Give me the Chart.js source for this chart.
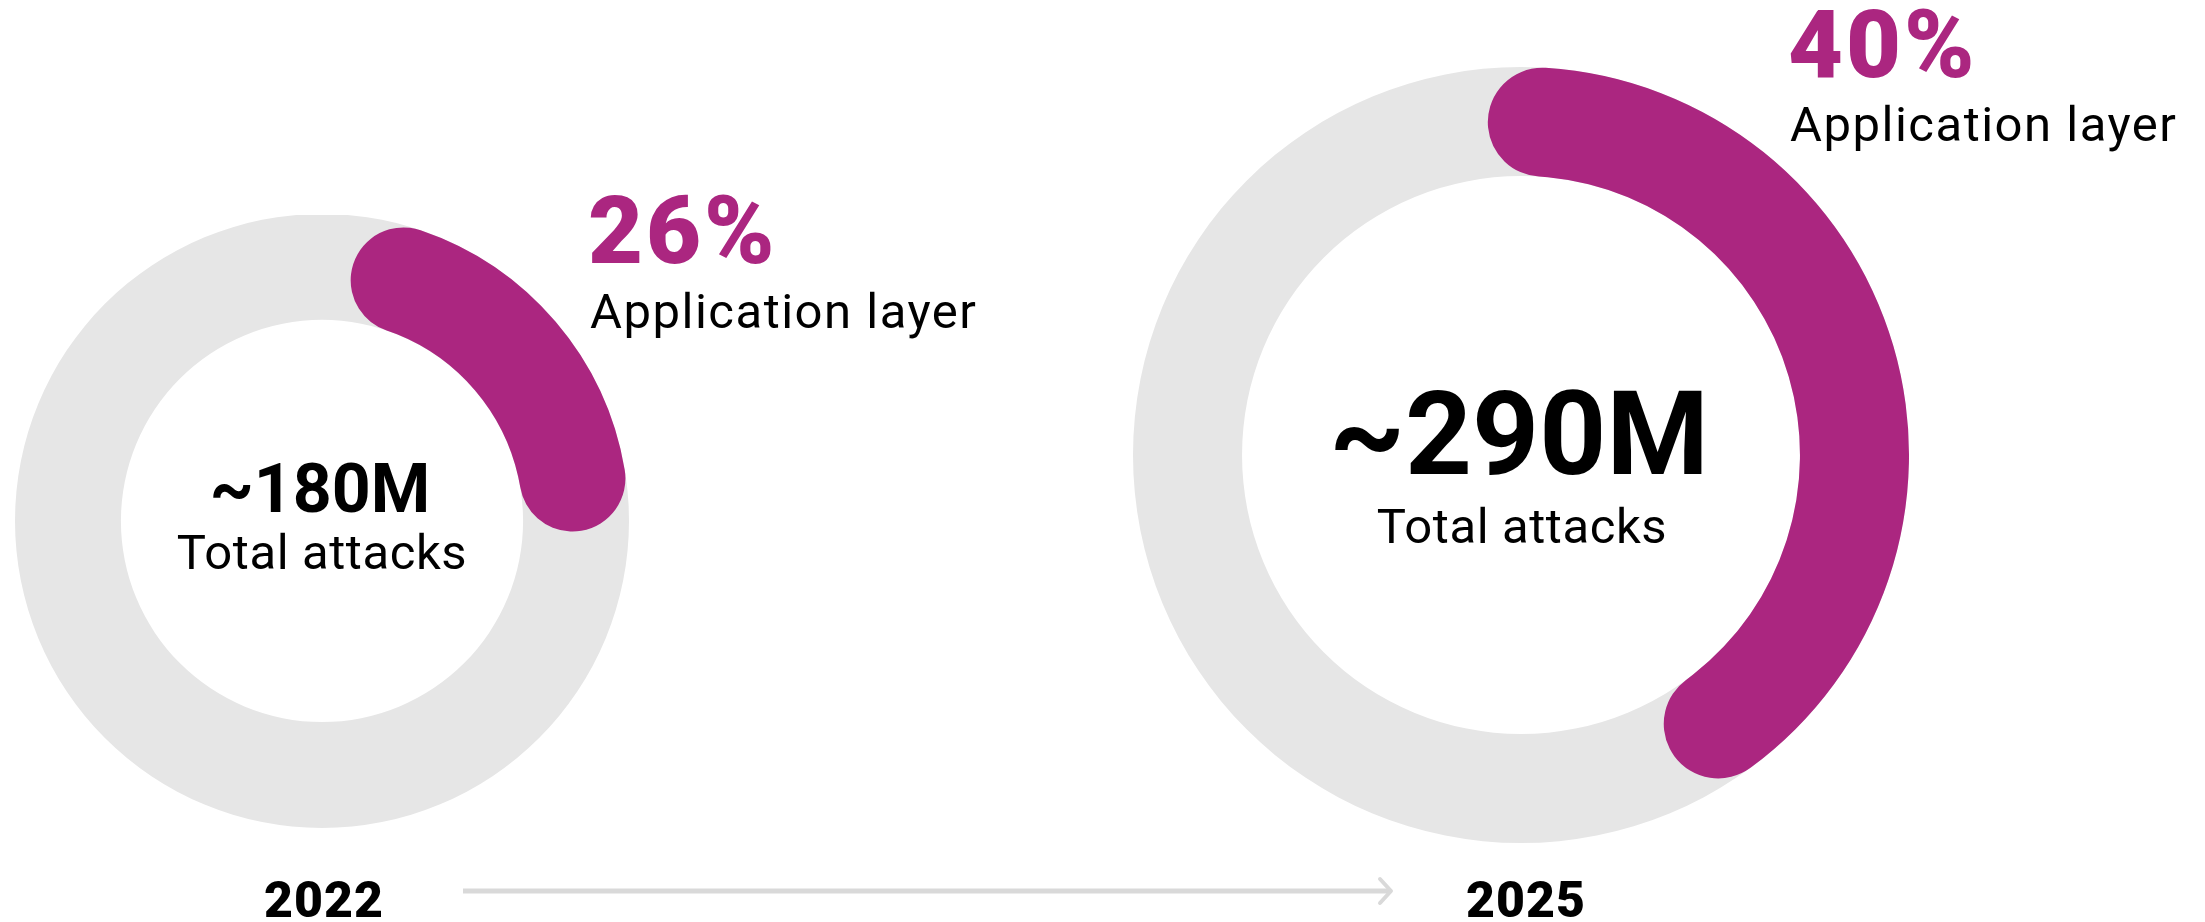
<!DOCTYPE html>
<html>
<head>
<meta charset="utf-8">
<script src="https://cdn.jsdelivr.net/npm/chart.js@4.4.1/dist/chart.umd.min.js"></script>
<style>
  html, body { margin: 0; padding: 0; background: #fff; }
  body { width: 2205px; height: 922px; position: relative; overflow: hidden; font-family: Roboto, "Noto Sans", sans-serif; color: #000; }
  canvas { position: absolute; }
  .t { position: absolute; white-space: nowrap; line-height: 1; }
  .pct { color: #ab2680; font-weight: 900; letter-spacing: 3px; }
  .lab { letter-spacing: 1.5px; }
  .sub { letter-spacing: 0.6px; }
  .total { font-weight: 700; }
  .year { font-weight: 900; letter-spacing: 1px; }
</style>
</head>
<body>
<canvas id="c2022" width="614" height="614" style="left:15px;top:215px"></canvas>
<canvas id="c2025" width="776" height="776" style="left:1133px;top:67px"></canvas>

<svg style="position:absolute;left:0;top:0" width="2205" height="922">
  <line x1="463" y1="891" x2="1389" y2="891" stroke="#d9d9d9" stroke-width="5"/>
  <polyline points="1380,879 1391,891 1380,903" fill="none" stroke="#d9d9d9" stroke-width="4" stroke-linecap="round" stroke-linejoin="round"/>
</svg>

<div class="t pct" id="pct0"></div>
<div class="t lab" id="lab0"></div>
<div class="t total" id="tot0"></div>
<div class="t sub" id="sub0"></div>
<div class="t year" id="yr0"></div>

<div class="t pct" id="pct1"></div>
<div class="t lab" id="lab1"></div>
<div class="t total" id="tot1"></div>
<div class="t sub" id="sub1"></div>
<div class="t year" id="yr1"></div>

<script>
// data
const years = ["2022", "2025"];
const totals = ["~180M", "~290M"];
const appLayerShare = [26, 40];
const shareLabel = "Application layer";
const totalLabel = "Total attacks";

const purple = "#ab2680";
const ringGray = "#e6e6e6";

// grey full ring behind the purple arc
const ringBg = {
  id: "ringBg",
  beforeDatasetsDraw(chart) {
    const arc = chart.getDatasetMeta(0).data[0];
    if (!arc) return;
    const ctx = chart.ctx;
    ctx.save();
    ctx.beginPath();
    ctx.arc(arc.x, arc.y, arc.outerRadius, 0, Math.PI * 2);
    ctx.arc(arc.x, arc.y, arc.innerRadius, 0, Math.PI * 2, true);
    ctx.fillStyle = ringGray;
    ctx.fill("evenodd");
    ctx.restore();
  }
};

function donut(id, share, circumference, rotation, cutout) {
  new Chart(document.getElementById(id), {
    type: "doughnut",
    data: {
      labels: [shareLabel, "Other"],
      datasets: [{
        data: [share, 100 - share],
        backgroundColor: [purple, "rgba(0,0,0,0)"],
        borderWidth: 0,
        borderRadius: (c) => (c.dataIndex === 0 ? 300 : 0),
        hoverOffset: 0
      }]
    },
    options: {
      responsive: false,
      animation: false,
      events: [],
      cutout: cutout,
      rotation: rotation,
      circumference: circumference,
      layout: { padding: 0 },
      plugins: { legend: { display: false }, tooltip: { enabled: false } }
    },
    plugins: [ringBg]
  });
}

donut("c2022", appLayerShare[0], 329, 6.8, "65.5%");
donut("c2025", appLayerShare[1], 397, -5.7, "71.9%");

// text placement by baseline
function place(id, text, x, baseline, size, align) {
  const el = document.getElementById(id);
  el.textContent = text;
  el.style.fontSize = size + "px";
  el.style.top = (baseline - 0.842 * size) + "px";
  el.style.left = x + "px";
  if (align === "center") el.style.transform = "translateX(-50%)";
}

place("pct0", appLayerShare[0] + "%", 588, 263, 95);
place("lab0", shareLabel, 590, 328, 49);
place("tot0", totals[0], 320, 512, 68, "center");
place("sub0", totalLabel, 322, 569, 49, "center");
place("yr0", years[0], 324, 917, 50, "center");

place("pct1", appLayerShare[1] + "%", 1788, 77, 95);
place("lab1", shareLabel, 1790, 141, 49);
place("tot1", totals[1], 1519, 475, 117, "center");
place("sub1", totalLabel, 1522, 543, 49, "center");
place("yr1", years[1], 1526, 917, 50, "center");
</script>
</body>
</html>
